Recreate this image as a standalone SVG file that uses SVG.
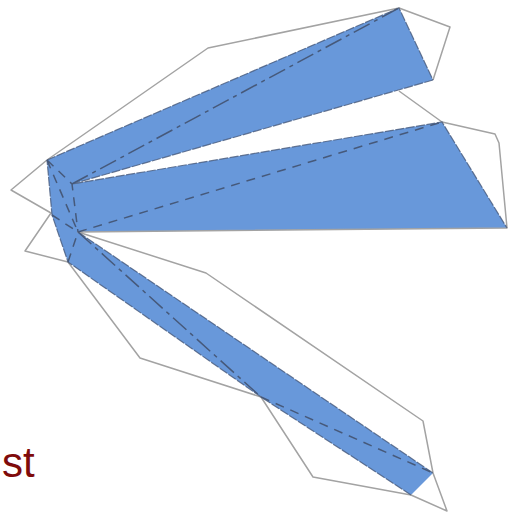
<svg xmlns="http://www.w3.org/2000/svg" width="508" height="512" viewBox="0 0 508 512">
<style>
.o{fill:none;stroke:#a3a3a3;stroke-width:1.5;stroke-linejoin:round}
.d{fill:none;stroke:#46597a;stroke-width:1.5;stroke-dasharray:9 7}
.e{fill:none;stroke:#46597a;stroke-width:1.2;stroke-dasharray:9 1.5;stroke-opacity:.8}
.c{fill:none;stroke:#46597a;stroke-width:1.5;stroke-dasharray:18 5 4 5}
</style>
<rect width="508" height="512" fill="#fff"/>
<g id="band">
<path d="M47 160L399 8L433 80L72 184L442 122L507 228L78 232L433 473L411 495L261 397L68 262L52 215Z" fill="#6898da"/>
</g>
<g id="outline">
<path class="o" d="M47 160L208 48L399 8L450 27L433 80"/>
<path class="o" d="M399 91L442 122L495 134L499 143L507 228L78 232L206 273L423 421L433 473L447 511L411 495L313 477L261 397L140 358L68 262L25 251L51 213L11 190L47 160"/>
</g>
<g id="connectors">
<path class="e" d="M47 160L399 8L433 80M433 80L72 184L442 122L507 228M78 232L433 473M411 495L261 397L68 262L52 215L47 160"/>
<path class="d" d="M47 160L72 184L78 232M47 160L78 232M52 215L78 232M68 262L78 232M78 232L442 122M261 397L433 473"/>
<path class="c" d="M72 184L399 8M78 232L261 397"/>
</g>
<text x="2" y="477" font-family="Liberation Sans, Arial, sans-serif" font-size="42" fill="#7f0b0b">st</text>
</svg>
